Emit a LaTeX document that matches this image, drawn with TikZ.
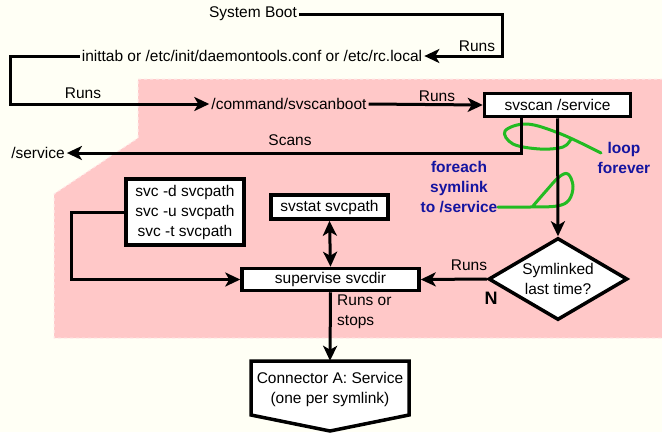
\documentclass[tikz,border=0pt]{standalone}
\usepackage{fontspec}
\setmainfont{Liberation Sans}
\usetikzlibrary{arrows.meta}
\usetikzlibrary{positioning, shapes.geometric}
\usepackage{xcolor}

\definecolor{paper}{HTML}{FFFFF5}
\definecolor{zonepink}{HTML}{FFC8C8}
\definecolor{notenavy}{HTML}{1414A0}
\definecolor{loopgreen}{HTML}{22BB22}

\newcommand{\diagfont}{\fontsize{15.5}{20}\selectfont}

\tikzset{
  box/.style={draw, line width=3.5pt, fill=white, inner sep=2pt, align=center},
  txt/.style={inner sep=2pt, align=center},
  flow/.style={line width=3pt, -{Stealth[length=15pt, width=14pt, inset=4pt]}},
  note/.style={text=notenavy, font=\diagfont\bfseries, align=center, inner sep=0pt},
  loopline/.style={loopgreen, line width=3pt, line cap=round, line join=round}
}

\begin{document}
\begin{tikzpicture}[x=1pt, y=-1pt, font=\diagfont]

%paper
\useasboundingbox (0,0) rectangle (662,432);
\fill[paper] (0,0) rectangle (662,432);

%zone
\filldraw[fill=zonepink, draw=zonepink!40!white, dashed, line width=1pt]
  (138,79) -- (663,79) -- (663,338) -- (54,338) -- (54,194) -- (138,138) -- cycle;

%loops
\draw[loopline] plot[smooth, tension=0.6] coordinates
  {(601,153) (561,134) (527,124) (505,131) (513,144) (540,149) (563,147) (571,139)};
\draw[loopline] plot[smooth, tension=0.6] coordinates
  {(498,207) (530,207) (557,206) (569,200) (573,186) (568,174) (559,177) (546,191) (533,206)};

%connector shape
\filldraw[fill=white, line width=3.5pt, line join=miter]
  (251,361) -- (409,361) -- (409,415) -- (330,431) -- (251,415) -- cycle;

%nodes
\node[txt] (boot) at (253,14) {System Boot};
\node[txt] (inittab) at (252,56) {inittab or /etc/init/daemontools.conf or /etc/rc.local};
\node[txt] (scanboot) at (289,104) {/command/svscanboot};
\node[box, minimum width=146pt, minimum height=23pt] (svscan) at (557.5,105) {svscan /service};
\node[txt] (service) at (38,153) {/service};
\node[box, minimum width=118pt, minimum height=66pt] (svc) at (185,212) {svc -d svcpath\\svc -u svcpath\\svc -t svcpath};
\node[box, minimum width=117pt, minimum height=24pt] (svstat) at (329.5,207) {svstat svcpath};
\node[box, minimum width=177pt, minimum height=22pt] (supervise) at (330.5,279.5) {supervise svcdir};
\node[box, diamond, aspect=1.67, inner sep=0pt, minimum width=139pt, minimum height=82pt] (linked) at (558,279) {Symlinked\\last time?};
\node[txt, minimum width=154pt, minimum height=56pt] (connA) at (330,389) {Connector A: Service\\(one per symlink)};

%connectors
\draw[flow] (boot.east) -- ++(203,0) |- (inittab.east);
\draw[flow] (inittab.west) -- ++(-69,0) |- (scanboot.west);
\draw[flow] (scanboot.east) -- (svscan.west);
\draw[flow] ([xshift=-36pt]svscan.south) |- (service.east);
\draw[flow] (svscan.south) -- (linked.north);
\draw[flow] (linked.west) -- (supervise.east);
\draw[flow] (svc.west) -- ++(-53,0) |- (supervise.west);
\draw[line width=3pt, {Stealth[length=15pt, width=14pt, inset=4pt]}-{Stealth[length=15pt, width=14pt, inset=4pt]}] (svstat.south) -- (supervise.north);
\draw[flow] (supervise.south) -- (connA.north);

%labels
\node[txt] (runsboot) at (477,46) {Runs};
\node[txt] (runsinit) at (83,93) {Runs};
\node[txt] (runsscan) at (437,96) {Runs};
\node[txt] (scans) at (290,140) {Scans};
\node[txt] (runslinked) at (469,265) {Runs};
\node[txt, font=\fontsize{18}{20}\selectfont\bfseries] (nolinked) at (491,298) {N};
\node[txt, anchor=west, align=left] (runsstops) at (335,312) {Runs or\\stops};
\node[note] (loopnote) at (624,158) {loop\\forever};
\node[note] (eachnote) at (459,187) {foreach\\symlink\\to /service};

\end{tikzpicture}
\end{document}
